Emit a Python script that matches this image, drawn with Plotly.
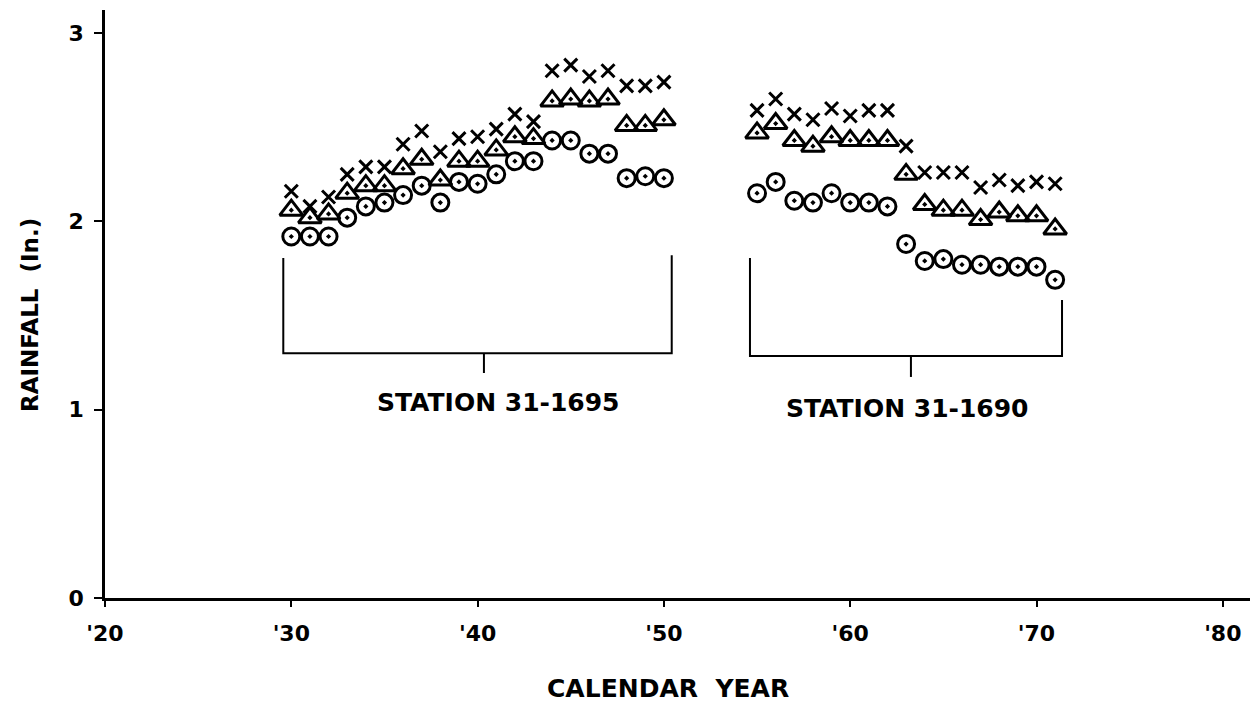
import plotly.graph_objects as go

# ---- data ----
years_1695 = list(range(1930, 1951))
x_1695 = [2.16, 2.08, 2.13, 2.25, 2.29, 2.29, 2.41, 2.48, 2.37, 2.44, 2.45,
          2.49, 2.57, 2.53, 2.80, 2.83, 2.77, 2.80, 2.72, 2.72, 2.74]
tri_1695 = [2.06, 2.02, 2.04, 2.15, 2.19, 2.19, 2.28, 2.33, 2.22, 2.32, 2.32,
            2.38, 2.45, 2.44, 2.64, 2.65, 2.64, 2.65, 2.51, 2.51, 2.54]
circ_1695 = [1.92, 1.92, 1.92, 2.02, 2.08, 2.10, 2.14, 2.19, 2.10, 2.21, 2.20,
             2.25, 2.32, 2.32, 2.43, 2.43, 2.36, 2.36, 2.23, 2.24, 2.23]

years_1690 = list(range(1955, 1972))
x_1690 = [2.59, 2.65, 2.57, 2.54, 2.60, 2.56, 2.59, 2.59, 2.40,
          2.26, 2.26, 2.26, 2.18, 2.22, 2.19, 2.21, 2.20]
tri_1690 = [2.47, 2.52, 2.43, 2.40, 2.45, 2.43, 2.43, 2.43, 2.25,
            2.09, 2.06, 2.06, 2.01, 2.05, 2.03, 2.03, 1.96]
circ_1690 = [2.15, 2.21, 2.11, 2.10, 2.15, 2.10, 2.10, 2.08, 1.88,
             1.79, 1.80, 1.77, 1.77, 1.76, 1.76, 1.76, 1.69]

x_tick_vals = [1920, 1930, 1940, 1950, 1960, 1970, 1980]
x_tick_text = ["'20", "'30", "'40", "'50", "'60", "'70", "'80"]
y_tick_vals = [0, 1, 2, 3]
y_tick_text = ["0", "1", "2", "3"]

station_labels = ["STATION 31-1695", "STATION 31-1690"]
x_title = "CALENDAR  YEAR"
y_title = "RAINFALL  (In.)"

FONT = "DejaVu Sans"
INK = "black"

fig = go.Figure()

def add_series(xs, ys, symbol, size, lw):
    fig.add_trace(go.Scatter(
        x=xs, y=ys, mode="markers", showlegend=False, hoverinfo="skip",
        marker=dict(symbol=symbol, size=size, color=INK,
                    line=dict(color=INK, width=lw))))

for yrs, xs, tr, ci in [(years_1695, x_1695, tri_1695, circ_1695),
                        (years_1690, x_1690, tri_1690, circ_1690)]:
    add_series(yrs, ci, "circle-open-dot", 17, 3)
    add_series(yrs, tr, "triangle-up-open-dot", 20, 3)
    add_series(yrs, xs, "x-thin-open", 13, 3)

# station brackets
brackets = [
    dict(x0=1929.57, x1=1950.42, ytop_l=1.806, ytop_r=1.82, ybot=1.30,
         xt=1940.34, yt=1.195, xl=1941.1, yl=1.036),
    dict(x0=1954.62, x1=1971.37, ytop_l=1.806, ytop_r=1.583, ybot=1.285,
         xt=1963.26, yt=1.174, xl=1963.1, yl=1.009),
]
for b, lab in zip(brackets, station_labels):
    fig.add_shape(type="path", xref="x", yref="y",
                  path=f"M {b['x0']},{b['ytop_l']} L {b['x0']},{b['ybot']} "
                       f"L {b['x1']},{b['ybot']} L {b['x1']},{b['ytop_r']}",
                  line=dict(color=INK, width=2))
    fig.add_shape(type="line", xref="x", yref="y",
                  x0=b["xt"], x1=b["xt"], y0=b["ybot"], y1=b["yt"],
                  line=dict(color=INK, width=2))
    fig.add_annotation(x=b["xl"], y=b["yl"], xref="x", yref="y", text=lab,
                       showarrow=False,
                       font=dict(family=FONT, size=25, color=INK, weight="bold"))

# axis titles (paper coords; plot area spans x 105..1250, y 10..598 px)
fig.add_annotation(xref="paper", yref="paper", x=(668 - 105) / 1145,
                   y=(598 - 688) / 588, text=x_title, showarrow=False,
                   xanchor="center", yanchor="middle",
                   font=dict(family=FONT, size=25, color=INK, weight="bold"))
fig.add_annotation(xref="paper", yref="paper", x=(30 - 105) / 1145,
                   y=(598 - 315) / 588, text=y_title, textangle=-90,
                   showarrow=False, xanchor="center", yanchor="middle",
                   font=dict(family=FONT, size=23, color=INK, weight="bold"))

fig.update_layout(
    width=1250, height=704,
    margin=dict(l=105, r=0, t=10, b=106),
    paper_bgcolor="white", plot_bgcolor="white",
    font=dict(family=FONT, color=INK),
    xaxis=dict(range=[1920, 1981.46], tickmode="array",
               tickvals=x_tick_vals, ticktext=x_tick_text,
               showline=True, linecolor=INK, linewidth=2.5,
               ticks="outside", ticklen=6, tickwidth=2, tickcolor=INK,
               ticklabelstandoff=8, automargin=False,
               showgrid=False, zeroline=False,
               tickfont=dict(family=FONT, size=22, color=INK, weight="bold")),
    yaxis=dict(range=[0, 3.123], tickmode="array",
               tickvals=y_tick_vals, ticktext=y_tick_text,
               showline=True, linecolor=INK, linewidth=2.5,
               ticks="outside", ticklen=8, tickwidth=2, tickcolor=INK,
               ticklabelstandoff=6, automargin=False,
               showgrid=False, zeroline=False,
               tickfont=dict(family=FONT, size=22, color=INK, weight="bold")),
)

fig.write_html("out.html",
               config={"displayModeBar": False},
               post_script="document.body.style.margin='0';"
                           "document.body.style.overflow='hidden';")
